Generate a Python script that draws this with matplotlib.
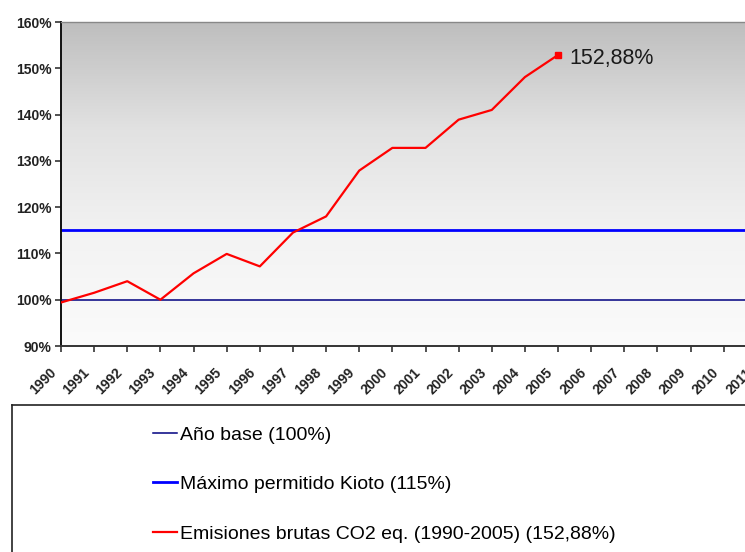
import matplotlib.pyplot as plt
import numpy as np
from matplotlib.colors import LinearSegmentedColormap
from matplotlib.transforms import ScaledTranslation

plt.rcParams['font.family'] = ['Liberation Sans', 'DejaVu Sans']

# data
years = [1990, 1991, 1992, 1993, 1994, 1995, 1996, 1997, 1998, 1999,
         2000, 2001, 2002, 2003, 2004, 2005]
emisiones = [99.4, 101.5, 104.0, 100.0, 105.7, 109.9, 107.2, 114.5, 118.0, 127.9,
             132.8, 132.8, 138.9, 141.0, 148.1, 152.88]
base = 100
kioto = 115
tick_years = list(range(1990, 2012))
y_ticks = [90, 100, 110, 120, 130, 140, 150, 160]
labels = ["Año base (100%)", "Máximo permitido Kioto (115%)",
          "Emisiones brutas CO2 eq. (1990-2005) (152,88%)"]

fig = plt.figure(figsize=(7.45, 5.52), dpi=100)
# plot area runs past the right edge of the picture (cropped chart)
ax = fig.add_axes([61/745, 1 - 346/552, (790 - 61)/745, (346 - 22)/552])

x_max = 2012
# gray gradient background
cmap = LinearSegmentedColormap.from_list("bg", ["#fbfbfb", "#f3f3f3", "#e2e2e2", "#bebebe"])
grad = np.linspace(0, 1, 256).reshape(-1, 1)
ax.imshow(grad, extent=[1990, x_max, 90, 160], origin="lower", aspect="auto",
          cmap=cmap, zorder=0)

l1, = ax.plot([1990, x_max], [base, base], color="#000080", lw=1.1, zorder=2)
l2, = ax.plot([1990, x_max], [kioto, kioto], color="#0000ff", lw=2.0, zorder=2)
l3, = ax.plot(years, emisiones, color="#ff0000", lw=1.6, zorder=3)
ax.plot(years[-1], emisiones[-1], marker="s", color="#ff0000", ms=5, zorder=4)
ax.text(years[-1] + 0.35, emisiones[-1] - 0.7, "152,88%", fontsize=15.5, color="#1a1a1a",
        va="center", ha="left")

ax.set_xlim(1990, x_max)
ax.set_ylim(90, 160)
ax.set_yticks(y_ticks)
ax.set_yticklabels([f"{v}%" for v in y_ticks], fontsize=10, fontweight="bold", color="#222222")
ax.set_xticks(tick_years)
ax.set_xticklabels([str(y) for y in tick_years], rotation=45, ha="right",
                   rotation_mode="anchor", fontsize=10, fontweight="bold", color="#222222")
ax.tick_params(axis="x", length=4, width=1.2, color="#333333", pad=8)
ax.tick_params(axis="y", length=4, width=1.2, color="#333333", pad=3)
# nudge the slanted year labels down-left like the original
shift = ScaledTranslation(-12/100, -3/100, fig.dpi_scale_trans)
for lab in ax.get_xticklabels():
    lab.set_transform(lab.get_transform() + shift)
ax.spines["right"].set_visible(False)
ax.spines["top"].set_color("#888888")
ax.spines["top"].set_linewidth(1)
ax.spines["left"].set_color("#111111")
ax.spines["left"].set_linewidth(1.4)
ax.spines["bottom"].set_color("#333333")
ax.spines["bottom"].set_linewidth(1.4)

# legend box
lax = fig.add_axes([12/745, -0.2, 1.0, 1 - 405/552 + 0.2])
lax.set_xticks([])
lax.set_yticks([])
for s in lax.spines.values():
    s.set_color("#222222")
    s.set_linewidth(1.2)

fig.legend([l1, l2, l3], labels, loc="upper left",
           bbox_to_anchor=(153/745, 1 - 426/552), frameon=False,
           fontsize=14, handlelength=1.25, handletextpad=0.15,
           labelspacing=1.64, borderpad=0, borderaxespad=0)

fig.savefig("out.png", dpi=100)
